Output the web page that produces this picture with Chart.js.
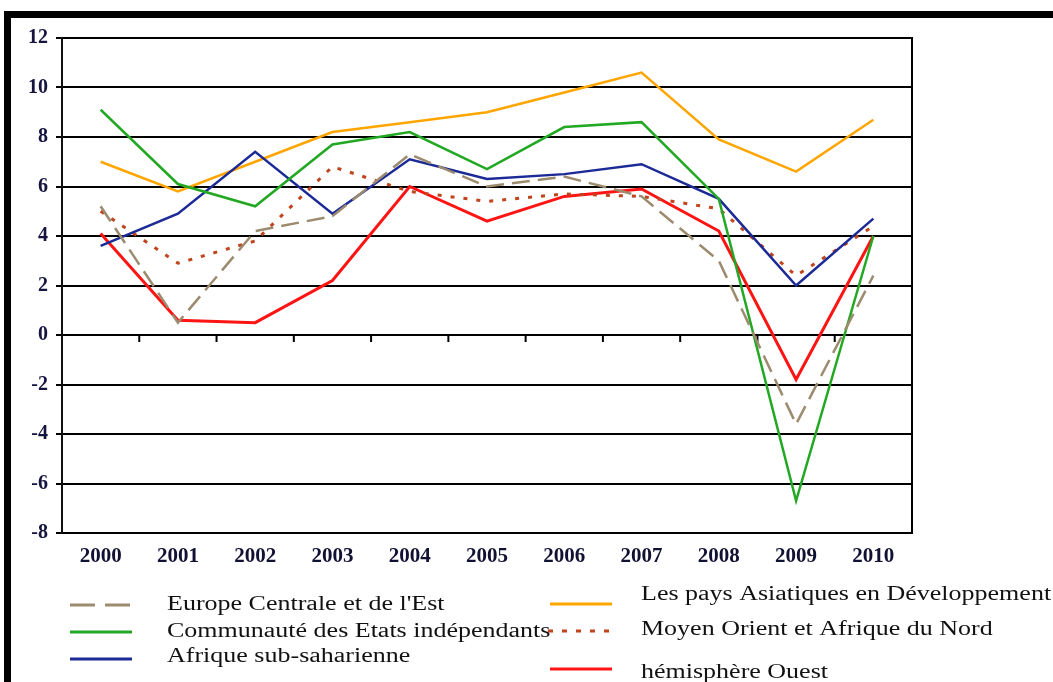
<!DOCTYPE html>
<html>
<head>
<meta charset="utf-8">
<script src="https://cdn.jsdelivr.net/npm/chart.js@4.4.0/dist/chart.umd.min.js"></script>
<style>
    html, body { margin: 0; padding: 0; background: #fff; }
    #wrap { position: relative; width: 1053px; height: 682px; overflow: hidden; }
    #wrap canvas { position: absolute; left: 0; top: 0; }
    #frame { position: absolute; left: 4px; top: 11px; right: 0; bottom: 0;
             border-top: 7px solid #000; border-left: 7px solid #000; pointer-events: none; }
</style>
</head>
<body>
<div id="wrap">
    <canvas id="growth-chart" width="1053" height="682"></canvas>
    <div id="frame"></div>
</div>
<script>
// Data
const years = ['2000', '2001', '2002', '2003', '2004', '2005', '2006', '2007', '2008', '2009', '2010'];
const europeEst = [5.2, 0.5, 4.2, 4.8, 7.3, 6.0, 6.4, 5.6, 3.0, -3.6, 2.4];
const communauteEtats = [9.1, 6.1, 5.2, 7.7, 8.2, 6.7, 8.4, 8.6, 5.5, -6.7, 4.0];
const afriqueSub = [3.6, 4.9, 7.4, 4.9, 7.1, 6.3, 6.5, 6.9, 5.5, 2.0, 4.7];
const asieDev = [7.0, 5.8, 7.0, 8.2, 8.6, 9.0, 9.8, 10.6, 7.9, 6.6, 8.7];
const moyenOrient = [5.0, 2.9, 3.8, 6.8, 5.8, 5.4, 5.7, 5.6, 5.1, 2.4, 4.4];
const hemisphereOuest = [4.1, 0.6, 0.5, 2.2, 6.0, 4.6, 5.6, 5.9, 4.2, -1.8, 4.0];
const yMin = -8, yMax = 12, yStep = 2;

const seriesNames = [
    'Europe Centrale et de l\'Est',
    'Communauté des Etats indépendants',
    'Afrique sub-saharienne',
    'Les pays Asiatiques en Développement',
    'Moyen Orient et Afrique du Nord',
    'hémisphère Ouest'
];

// legend layout: sample line (x1, x2, y) and text position
const legendPos = [
    { x1: 70, x2: 132, y: 605, tx: 167, ty: 605 },
    { x1: 70, x2: 132, y: 632, tx: 167, ty: 632 },
    { x1: 70, x2: 132, y: 659, tx: 167, ty: 657 },
    { x1: 550, x2: 612, y: 604, tx: 641, ty: 595 },
    { x1: 548, x2: 610, y: 631, tx: 641, ty: 630 },
    { x1: 550, x2: 612, y: 669, tx: 641, ty: 673 }
];
const legendStretch = 1.3; // the source legend text is set wide

function line(label, data, color, width, dash) {
    return {
        label: label,
        data: data,
        borderColor: color,
        backgroundColor: color,
        borderWidth: width,
        borderDash: dash || [],
        pointRadius: 0,
        tension: 0,
        fill: false
    };
}

// tick marks on the zero line + right border + custom legend
const extras = {
    id: 'extras',
    beforeDatasetsDraw(chart) {
        const ctx = chart.ctx, area = chart.chartArea;
        const xs = chart.scales.x, ys = chart.scales.y;
        const y0 = ys.getPixelForValue(0);
        ctx.save();
        ctx.strokeStyle = '#000';
        ctx.lineWidth = 2;
        ctx.beginPath();
        ctx.moveTo(area.right, area.top - 1);
        ctx.lineTo(area.right, area.bottom + 1);
        for (let i = 1; i <= years.length; i++) {
            const x = xs.getPixelForValue(i - 0.5);
            ctx.moveTo(x, y0);
            ctx.lineTo(x, y0 + 7);
        }
        ctx.stroke();
        ctx.restore();
    },
    afterDraw(chart) {
        const ctx = chart.ctx;
        ctx.save();
        chart.data.datasets.forEach(function (ds, i) {
            const p = legendPos[i];
            ctx.strokeStyle = ds.borderColor;
            ctx.lineWidth = 3;
            ctx.setLineDash(ds.legendDash || ds.borderDash);
            ctx.beginPath();
            ctx.moveTo(p.x1, p.y);
            ctx.lineTo(p.x2, p.y);
            ctx.stroke();
            ctx.setLineDash([]);

            ctx.save();
            ctx.translate(p.tx, p.ty);
            ctx.scale(legendStretch, 1);
            ctx.fillStyle = '#111';
            ctx.font = '20px "Liberation Serif"';
            ctx.textBaseline = 'middle';
            ctx.fillText(ds.label, 0, 0);
            ctx.restore();
        });
        ctx.restore();
    }
};

const datasets = [
    line(seriesNames[0], europeEst, '#9c8b6e', 2.5, [18, 8]),
    line(seriesNames[1], communauteEtats, '#22a822', 2.5),
    line(seriesNames[2], afriqueSub, '#1c2a96', 2.5),
    line(seriesNames[3], asieDev, '#ffa500', 2.5),
    line(seriesNames[4], moyenOrient, '#c0441c', 3, [4, 9]),
    line(seriesNames[5], hemisphereOuest, '#ff1414', 3)
];
datasets[0].legendDash = [25, 10];
datasets[4].legendDash = [5, 9];

var ctx = document.getElementById('growth-chart').getContext('2d');
var growthChart = new Chart(ctx, {
    type: 'line',
    data: { labels: years, datasets: datasets },
    options: {
        responsive: false,
        animation: false,
        layout: { padding: { top: 38, right: 141, bottom: 0, left: 0 } },
        plugins: { legend: { display: false }, tooltip: { enabled: false } },
        scales: {
            x: {
                offset: true,
                grid: { display: false, drawTicks: false },
                border: { display: false },
                ticks: {
                    color: '#111133',
                    font: { family: 'Liberation Serif', size: 21, weight: 'bold' },
                    padding: 11,
                    maxRotation: 0,
                    autoSkip: false
                },
                afterFit: function (scale) { scale.height = 149; }
            },
            y: {
                min: yMin,
                max: yMax,
                ticks: {
                    stepSize: yStep,
                    color: '#15153f',
                    font: { family: 'Liberation Serif', size: 20, weight: 'bold' },
                    padding: 8
                },
                grid: { color: '#000', lineWidth: 2, tickLength: 6, tickColor: '#000' },
                border: { color: '#111', width: 2 },
                afterFit: function (scale) { scale.width = 62; }
            }
        }
    },
    plugins: [extras]
});
</script>
</body>
</html>
